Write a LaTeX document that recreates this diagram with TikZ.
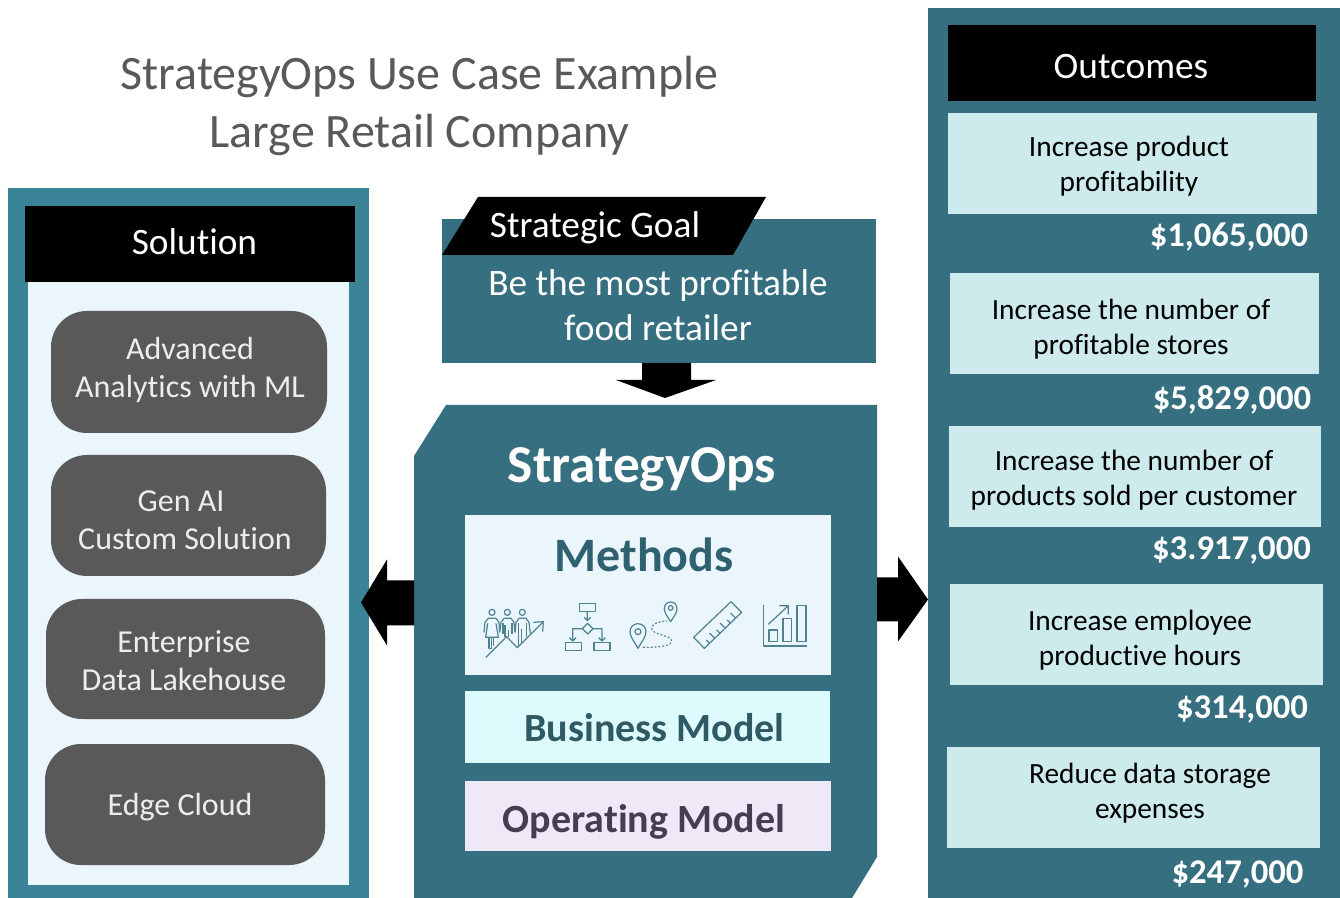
\documentclass[tikz,border=0pt]{standalone}
\usepackage{fontspec}
\setmainfont[Ligatures=NoCommon]{Carlito}
\usetikzlibrary{calc}
\definecolor{panelA}{HTML}{3B8497}
\definecolor{panelB}{HTML}{366F80}
\definecolor{paleblue}{HTML}{EAF5FC}
\definecolor{paleteal}{HTML}{CDEAEC}
\definecolor{palecyan}{HTML}{DDFBFD}
\definecolor{palelilac}{HTML}{F0E8F7}
\definecolor{pill}{HTML}{595959}
\definecolor{icon}{HTML}{4F8291}
\definecolor{methodtext}{HTML}{2F6170}
\definecolor{bmtext}{HTML}{2F5A64}
\definecolor{omtext}{HTML}{433F50}
\newcommand{\pxbox}[6]{%
  \pgfmathsetmacro{\cxv}{(#3+#5)/2}\pgfmathsetmacro{\cyv}{(#4+#6)/2}%
  \pgfmathsetmacro{\wv}{(#5-#3)*0.75}\pgfmathsetmacro{\hv}{(#6-#4)*0.75}%
  \node[#1,minimum width=\wv pt,minimum height=\hv pt] (#2) at (\cxv,\cyv) {};}
\tikzset{
  plain/.style={inner sep=0pt,outer sep=0pt,draw=none},
  fillbox/.style={plain,fill=#1},
  pillbox/.style={plain,fill=pill,rounded corners=27pt},
  lab/.style={inner sep=0pt,outer sep=0pt,align=center,font=#1},
  whitetext/.style={text=white},
  outcome/.style={lab=\fontsize{22}{26.25}\selectfont,text=black},
  money/.style={lab=\fontsize{26}{28}\selectfont\bfseries,text=white},
  pilltext/.style={lab=\fontsize{24}{28.5}\selectfont,text=white!93!black},
  blockarrow/.style={fill=black,draw=none},
  ic/.style={draw=icon,line width=0.9pt,line join=round},
}
\begin{document}
\begin{tikzpicture}[x=0.75pt,y=-0.75pt]
\useasboundingbox (0,0) rectangle (1340,898);
\fill[white] (0,0) rectangle (1340,898);
% title
\node[lab=\fontsize{36}{44}\selectfont,text=pill] (title) at (419.5,106) {StrategyOps Use Case Example\\Large Retail Company};
% solution panel
\pxbox{fillbox=panelA}{solpanel}{8}{188}{369}{898}
\pxbox{fillbox=paleblue}{solinner}{28}{282}{349}{885}
\pxbox{fillbox=black}{solhead}{25}{206}{355}{282}
\node[lab=\fontsize{28}{30}\selectfont,whitetext] (soltitle) at (194.5,242) {Solution};
\pxbox{pillbox}{p1}{51}{311}{327}{433}
\pxbox{pillbox}{p2}{51}{455}{326}{576}
\pxbox{pillbox}{p3}{46}{599}{325}{719}
\pxbox{pillbox}{p4}{45}{744}{325}{865}
\node[pilltext] (p1t) at (190,370) {Advanced\\Analytics with ML};
\node[pilltext] (p2t) at (185,520) {Gen AI\hspace*{6pt}\\Custom Solution};
\node[pilltext] (p3t) at (184,661) {Enterprise\\Data Lakehouse};
\node[pilltext] (p4t) at (180,807) {Edge Cloud};
% goal
\pxbox{fillbox=panelB}{goal}{442}{219}{876}{363}
\fill[black] (442,255) -- (478,197) -- (766,197) -- (733,255) -- cycle;
\node[lab=\fontsize{28}{30}\selectfont,whitetext] (goalhead) at (595,228) {Strategic Goal};
\node[lab=\fontsize{28}{33.75}\selectfont,whitetext] (goaltext) at (658,305) {Be the most profitable\\food retailer};
% core
\fill[panelB] (446,405) -- (877,405) -- (877,857) -- (852,898) -- (414,898) -- (414,456) -- cycle;
\pxbox{plain}{core}{414}{405}{877}{898}
\node[lab=\fontsize{40}{44}\selectfont\bfseries,whitetext] (coretitle) at (642,470) {StrategyOps};
\pxbox{fillbox=paleblue}{methods}{465}{515}{831}{675}
\pxbox{fillbox=palecyan}{bm}{465}{691}{830}{763}
\pxbox{fillbox=palelilac}{om}{465}{781}{831}{851}
\node[lab=\fontsize{36}{40}\selectfont\bfseries,text=methodtext] (mt) at (644,555) {Methods};
\node[lab=\fontsize{30}{34}\selectfont\bfseries,text=bmtext] (bmt) at (654.5,728) {Business Model};
\node[lab=\fontsize{30}{34}\selectfont\bfseries,text=omtext] (omt) at (644,822) {Operating Model};
% block arrows
\fill[blockarrow] ($(goal.south)+(-17,0)$) -- ++(49,0) -- ++(0,17) -- ++(25,0) -- ++(-51,18) -- ++(-49,-18) -- ++(26,0) -- cycle;
\fill[blockarrow] ($(core.west)+(0,-26)$) -- ++(-27,0) -- ++(0,20) -- ++(-26,-43) -- ++(26,-43) -- ++(0,21) -- ++(27,0) -- cycle;
\fill[blockarrow] ($(core.east)+(0,-74)$) -- ++(21,0) -- ++(0,-21) -- ++(30,43) -- ++(-30,42) -- ++(0,-20) -- ++(-21,0) -- cycle;
% icons, drawn in 3x coordinates
\begin{scope}[shift={(465,580)},x=0.25pt,y=-0.25pt]
  % people + rising arrow
  \foreach \hx in {81,127,172} \draw[ic] (\hx,97) circle (9);
  \draw[ic] (63,232) -- (125,170) -- (157,203) -- (235,125);
  \draw[ic] (205,127) -- (235,125) -- (233,155);
  \draw[ic] (57,157) -- (60,127) -- (70,115) -- (93,115) -- (102,127) -- (104,157);
  \draw[ic] (68,130) -- (62,172) -- (100,172) -- (93,130);
  \draw[ic] (72,172) -- (72,206) -- (80,206) -- (80,172) (85,172) -- (85,198);
  \draw[ic] (104,157) -- (108,127) -- (117,115) -- (138,115) -- (147,127) -- (150,157);
  \draw[ic] (114,130) -- (114,162) (141,130) -- (141,162) (120,135) -- (120,172) (130,150) -- (130,172);
  \draw[ic] (150,157) -- (153,127) -- (162,115) -- (183,115) -- (192,127) -- (196,160);
  \draw[ic] (160,130) -- (160,198) (170,148) -- (170,190) (184,130) -- (184,172);
  % flowchart
  \draw[ic] (343,71) rectangle (391,94) (301,188) rectangle (349,211) (387,188) rectangle (435,211);
  \draw[ic] (367,94) -- (367,122) (357,112) -- (367,122) -- (377,112);
  \draw[ic] (368,130) -- (384,146) -- (368,162) -- (352,146) -- cycle;
  \draw[ic] (352,146) -- (323,146) -- (323,183) (313,173) -- (323,183) -- (333,173);
  \draw[ic] (384,146) -- (411,146) -- (411,183) (401,173) -- (411,183) -- (421,173);
  % route
  \draw[ic] (519,205) .. controls (505,180) and (495,170) .. (495,155) arc[start angle=180,end angle=360,radius=24] .. controls (543,170) and (533,180) .. (519,205) -- cycle;
  \draw[ic] (519,155) circle (9);
  \draw[ic] (617,125) .. controls (607,108) and (598,100) .. (598,85) arc[start angle=180,end angle=360,radius=19] .. controls (636,100) and (627,108) .. (617,125) -- cycle;
  \draw[ic] (617,84) circle (7);
  \draw[ic,dotted,line cap=round] (535,202) .. controls (585,202) and (622,198) .. (620,182) .. controls (618,165) and (560,165) .. (560,145) .. controls (560,128) and (590,124) .. (606,123);
  % ruler
  \draw[ic] (798,65) -- (830,97) -- (718,205) -- (686,172) -- cycle;
  \foreach \t/\l in {0.14/14,0.28/22,0.42/14,0.56/22,0.70/14,0.84/22}
    \draw[ic] ($(718,205)!\t!(830,97)$) -- ++(-\l*0.7,-\l*0.7);
  % chart
  \draw[ic] (896,75) -- (896,198) -- (1025,198);
  \draw[ic] (912,150) rectangle (938,184) (954,116) rectangle (980,184) (996,76) rectangle (1023,184);
  \draw[ic] (910,133) -- (970,77) (943,77) -- (970,77) -- (970,103);
\end{scope}
% outcomes
\pxbox{fillbox=panelB}{outpanel}{928}{8}{1340}{898}
\pxbox{fillbox=black}{outhead}{948}{25}{1316}{101}
\node[lab=\fontsize{28}{30}\selectfont,whitetext] (outtitle) at (1131,67) {Outcomes};
\pxbox{fillbox=paleteal}{o1}{948}{113}{1317}{214}
\pxbox{fillbox=paleteal}{o2}{950}{273}{1319}{374}
\pxbox{fillbox=paleteal}{o3}{949}{426}{1321}{527}
\pxbox{fillbox=paleteal}{o4}{950}{584}{1323}{685}
\pxbox{fillbox=paleteal}{o5}{947}{747}{1320}{848}
\node[outcome] (o1t) at (1129,166.5) {Increase product\\profitability};
\node[outcome] (o2t) at (1131,329.5) {Increase the number of\\profitable stores};
\node[outcome] (o3t) at (1134,480.5) {Increase the number of\\products sold per customer};
\node[outcome] (o4t) at (1140,640.5) {Increase employee\\productive hours};
\node[outcome] (o5t) at (1150,793.5) {Reduce data storage\\expenses};
\node[money] (m1) at (1229,237) {\$1,065,000};
\node[money] (m2) at (1232,400) {\$5,829,000};
\node[money] (m3) at (1231.5,550) {\$3.917,000};
\node[money] (m4) at (1242,709) {\$314,000};
\node[money] (m5) at (1237.5,874) {\$247,000};
\end{tikzpicture}
\end{document}
